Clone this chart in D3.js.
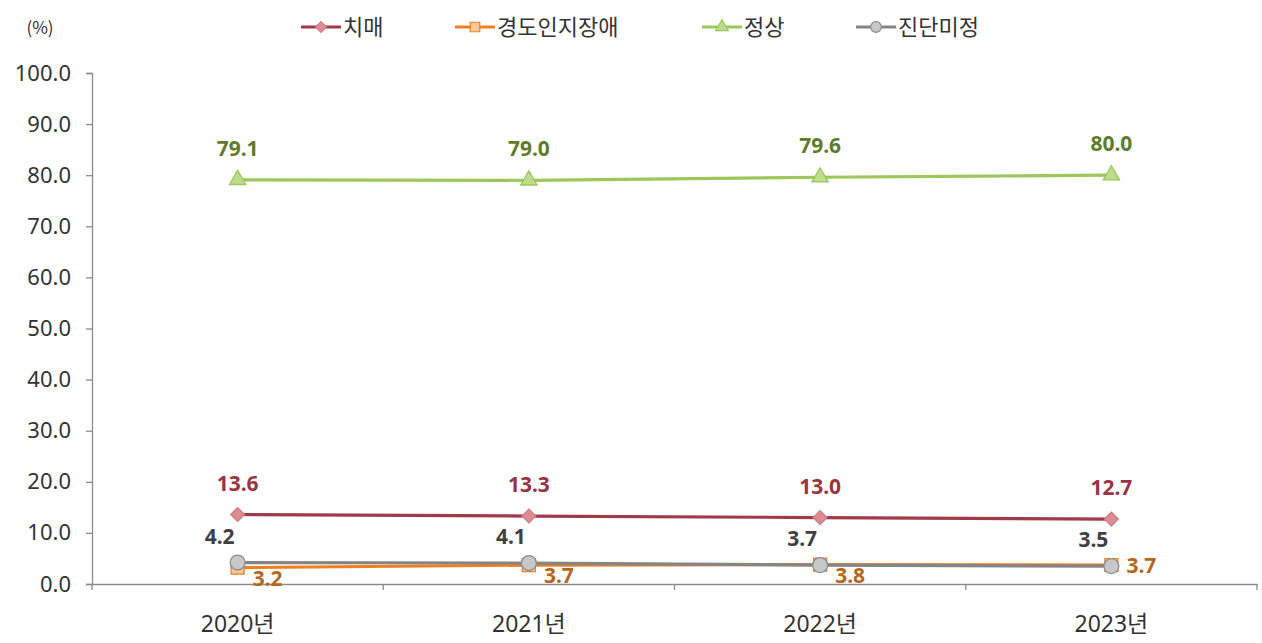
<!DOCTYPE html>
<html><head><meta charset="utf-8">
<script src="https://cdn.jsdelivr.net/npm/d3@7"></script>
<style>body{margin:0;background:#fff;} svg{display:block;font-family:"Noto Sans CJK KR","Noto Sans",sans-serif;}</style>
</head><body><svg id="c" width="1262" height="643"></svg>
<script>
const categories = ["2020년","2021년","2022년","2023년"];
const seriesNames = ["치매","경도인지장애","정상","진단미정"];
const dementia = [13.6,13.3,13.0,12.7];
const mci = [3.2,3.7,3.8,3.7];
const normal = [79.1,79.0,79.6,80.0];
const undetermined = [4.2,4.1,3.7,3.5];
const yTicks = [0,10,20,30,40,50,60,70,80,90,100];
const unitLabel = "(%)";

const styles = [
  {values:dementia, line:"#A03A48", fill:"#DE8C94", stroke:"#D07C86", label:"#9A3444", shape:d3.symbolSquare, rot:45, size:95, lsize:60, pos:"top"},
  {values:mci, line:"#F07F1E", fill:"#FBC89A", stroke:"#E8802A", label:"#B5661D", shape:d3.symbolSquare, rot:0, size:170, lsize:90, pos:"right"},
  {values:normal, line:"#9CC75B", fill:"#BEDC8E", stroke:"#9CC75B", label:"#5E7B2C", shape:d3.symbolTriangle, rot:0, size:115, lsize:70, pos:"top"},
  {values:undetermined, line:"#858585", fill:"#C6C8CA", stroke:"#8E8E8E", label:"#404040", shape:d3.symbolCircle, rot:0, size:175, lsize:90, pos:"topleft"}
];

const svg = d3.select("#c");
const x0 = 92, x1 = 1257, yTop = 73, yBot = 584;
const band = d3.scaleBand().domain(categories).range([x0,x1]).padding(0);
const xc = d => band(d) + band.bandwidth()/2;
const y = d3.scaleLinear().domain([0,100]).range([yBot,yTop]);
const numFont = "'Noto Sans','DejaVu Sans',sans-serif";

// Y axis
const ya = svg.append("g").attr("transform",`translate(${x0},0)`)
  .call(d3.axisLeft(y).tickValues(yTicks).tickFormat(d3.format(".1f")).tickSize(6).tickPadding(15));
ya.select(".domain").attr("stroke","#8a8a8a").attr("stroke-width",1.3);
ya.selectAll(".tick line").attr("stroke","#8a8a8a").attr("stroke-width",1.3);
ya.selectAll(".tick text").attr("fill","#333").style("font-size","22px").style("font-family",numFont);

// X axis
const xa = svg.append("g").attr("transform",`translate(0,${yBot})`)
  .call(d3.axisBottom(band).tickSize(0).tickPadding(32));
xa.select(".domain").attr("stroke","#8a8a8a").attr("stroke-width",1.3);
xa.selectAll(".tick text").attr("fill","#333").style("font-size","23px")
  .style("font-family","'Noto Sans','Noto Sans CJK KR',sans-serif");
// boundary ticks
const bounds = categories.map(c=>band(c)).concat([band(categories[categories.length-1])+band.bandwidth()]);
svg.append("g").selectAll("line").data(bounds).join("line")
  .attr("x1",d=>d).attr("x2",d=>d).attr("y1",yBot).attr("y2",yBot+6)
  .attr("stroke","#8a8a8a").attr("stroke-width",1.3);

// unit label
svg.append("text").attr("x",40).attr("y",34).attr("text-anchor","middle")
  .attr("fill","#333").style("font-size","17px").text(unitLabel);

// series
const line = d3.line().x((d,i)=>xc(categories[i])).y(d=>y(d));
styles.forEach(s=>{
  svg.append("path").datum(s.values).attr("d",line)
    .attr("fill","none").attr("stroke",s.line).attr("stroke-width",3.2);
});
styles.forEach(s=>{
  svg.append("g").selectAll("path").data(s.values).join("path")
    .attr("transform",(d,i)=>`translate(${xc(categories[i])},${y(d)}) rotate(${s.rot})`)
    .attr("d",d3.symbol().type(s.shape).size(s.size))
    .attr("fill",s.fill).attr("stroke",s.stroke).attr("stroke-width",1.3);
});
// labels
styles.forEach(s=>{
  svg.append("g").selectAll("text").data(s.values).join("text")
    .attr("x",(d,i)=>{
      const cx = xc(categories[i]);
      if(s.pos==="right") return cx+15;
      if(s.pos==="topleft") return cx-18;
      return cx;
    })
    .attr("y",(d,i)=>{
      const cy = y(d);
      if(s.pos==="right") return i===s.values.length-1 ? cy+8 : cy+18;
      if(s.pos==="topleft") return cy-19;
      return cy-24;
    })
    .attr("text-anchor",s.pos==="right"?"start":"middle")
    .attr("fill",s.label).style("font-size","21px").style("font-weight","bold")
    .style("font-family",numFont)
    .text(d=>d3.format(".1f")(d));
});

// legend
const legX = [301,455,702,856];
const leg = svg.append("g");
styles.forEach((s,i)=>{
  const g = leg.append("g").attr("transform",`translate(${legX[i]},27)`);
  g.append("line").attr("x1",0).attr("x2",40).attr("y1",0).attr("y2",0)
    .attr("stroke",s.line).attr("stroke-width",3.2);
  g.append("path").attr("transform",`translate(20,0) rotate(${s.rot})`)
    .attr("d",d3.symbol().type(s.shape).size(s.lsize))
    .attr("fill",s.fill).attr("stroke",s.stroke).attr("stroke-width",1.2);
  g.append("text").attr("x",42).attr("y",8).attr("fill","#333")
    .style("font-size","22px").text(seriesNames[i]);
});
</script></body></html>
